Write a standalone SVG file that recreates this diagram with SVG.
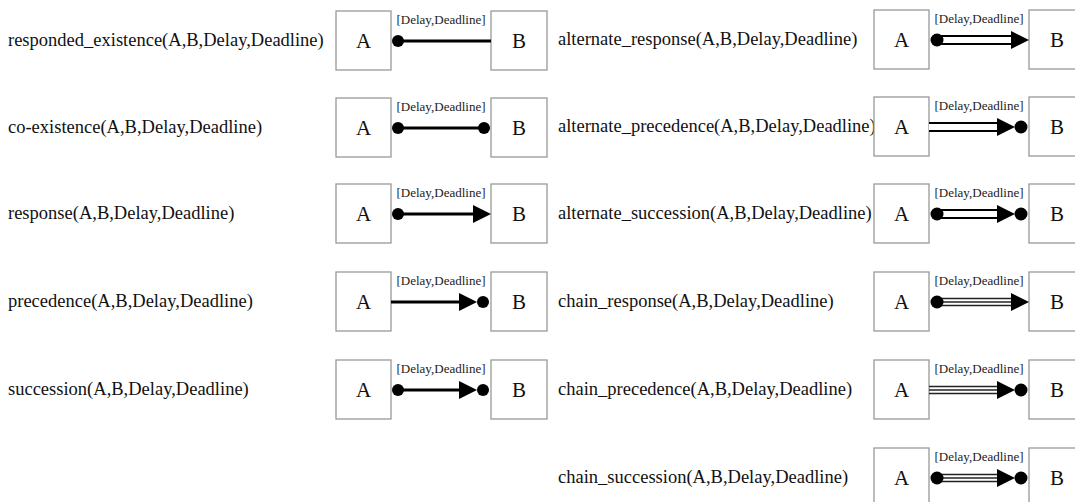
<svg xmlns="http://www.w3.org/2000/svg" width="1075" height="502" viewBox="0 0 1075 502">
<style>
.lbl{font-family:'Liberation Serif','Times New Roman',Times,serif;font-size:18.5px;fill:#111}
.box{fill:#fff;stroke:#999;stroke-width:1.3}
.bt{font-family:'Liberation Serif','Times New Roman',Times,serif;font-size:21px;fill:#111;text-anchor:middle}
.dl{font-family:'Liberation Serif','Times New Roman',Times,serif;font-size:13px;fill:#222;text-anchor:middle}
.ln{stroke:#000;stroke-width:3;fill:none}
.dbo{stroke:#000;stroke-width:10;fill:none}
.dbi{stroke:#fff;stroke-width:6;fill:none}
.tl{stroke:#222;stroke-width:1.4;fill:none}
.dot{fill:#000}
</style>
<rect width="1075" height="502" fill="#fff"/>
<g id="nodes">
<g id="r1l" transform="translate(0,41)">
<text class="lbl" x="8" y="5">responded_existence(A,B,Delay,Deadline)</text>
<rect class="box" x="336" y="-30" width="55" height="59"/><text class="bt" x="363.5" y="7">A</text>
<rect class="box" x="491" y="-30" width="56" height="59"/><text class="bt" x="519" y="7">B</text>
<text class="dl" x="441" y="-17">[Delay,Deadline]</text>
</g>
<g id="r2l" transform="translate(0,128)">
<text class="lbl" x="8" y="5">co-existence(A,B,Delay,Deadline)</text>
<rect class="box" x="336" y="-30" width="55" height="59"/><text class="bt" x="363.5" y="7">A</text>
<rect class="box" x="491" y="-30" width="56" height="59"/><text class="bt" x="519" y="7">B</text>
<text class="dl" x="441" y="-17">[Delay,Deadline]</text>
</g>
<g id="r3l" transform="translate(0,214)">
<text class="lbl" x="8" y="5">response(A,B,Delay,Deadline)</text>
<rect class="box" x="336" y="-30" width="55" height="59"/><text class="bt" x="363.5" y="7">A</text>
<rect class="box" x="491" y="-30" width="56" height="59"/><text class="bt" x="519" y="7">B</text>
<text class="dl" x="441" y="-17">[Delay,Deadline]</text>
</g>
<g id="r4l" transform="translate(0,302)">
<text class="lbl" x="8" y="5">precedence(A,B,Delay,Deadline)</text>
<rect class="box" x="336" y="-30" width="55" height="59"/><text class="bt" x="363.5" y="7">A</text>
<rect class="box" x="491" y="-30" width="56" height="59"/><text class="bt" x="519" y="7">B</text>
<text class="dl" x="441" y="-17">[Delay,Deadline]</text>
</g>
<g id="r5l" transform="translate(0,390)">
<text class="lbl" x="8" y="5">succession(A,B,Delay,Deadline)</text>
<rect class="box" x="336" y="-30" width="55" height="59"/><text class="bt" x="363.5" y="7">A</text>
<rect class="box" x="491" y="-30" width="56" height="59"/><text class="bt" x="519" y="7">B</text>
<text class="dl" x="441" y="-17">[Delay,Deadline]</text>
</g>
<g id="r1r" transform="translate(0,40)">
<text class="lbl" x="558" y="5">alternate_response(A,B,Delay,Deadline)</text>
<rect class="box" x="874" y="-30" width="55" height="59"/><text class="bt" x="901.5" y="7">A</text>
<rect class="box" x="1029" y="-30" width="56" height="59"/><text class="bt" x="1057" y="7">B</text>
<text class="dl" x="979" y="-17">[Delay,Deadline]</text>
</g>
<g id="r2r" transform="translate(0,127)">
<text class="lbl" x="558" y="5">alternate_precedence(A,B,Delay,Deadline)</text>
<rect class="box" x="874" y="-30" width="55" height="59"/><text class="bt" x="901.5" y="7">A</text>
<rect class="box" x="1029" y="-30" width="56" height="59"/><text class="bt" x="1057" y="7">B</text>
<text class="dl" x="979" y="-17">[Delay,Deadline]</text>
</g>
<g id="r3r" transform="translate(0,214)">
<text class="lbl" x="558" y="5">alternate_succession(A,B,Delay,Deadline)</text>
<rect class="box" x="874" y="-30" width="55" height="59"/><text class="bt" x="901.5" y="7">A</text>
<rect class="box" x="1029" y="-30" width="56" height="59"/><text class="bt" x="1057" y="7">B</text>
<text class="dl" x="979" y="-17">[Delay,Deadline]</text>
</g>
<g id="r4r" transform="translate(0,302)">
<text class="lbl" x="558" y="5">chain_response(A,B,Delay,Deadline)</text>
<rect class="box" x="874" y="-30" width="55" height="59"/><text class="bt" x="901.5" y="7">A</text>
<rect class="box" x="1029" y="-30" width="56" height="59"/><text class="bt" x="1057" y="7">B</text>
<text class="dl" x="979" y="-17">[Delay,Deadline]</text>
</g>
<g id="r5r" transform="translate(0,390)">
<text class="lbl" x="558" y="5">chain_precedence(A,B,Delay,Deadline)</text>
<rect class="box" x="874" y="-30" width="55" height="59"/><text class="bt" x="901.5" y="7">A</text>
<rect class="box" x="1029" y="-30" width="56" height="59"/><text class="bt" x="1057" y="7">B</text>
<text class="dl" x="979" y="-17">[Delay,Deadline]</text>
</g>
<g id="r6r" transform="translate(0,478)">
<text class="lbl" x="558" y="5">chain_succession(A,B,Delay,Deadline)</text>
<rect class="box" x="874" y="-30" width="55" height="59"/><text class="bt" x="901.5" y="7">A</text>
<rect class="box" x="1029" y="-30" width="56" height="59"/><text class="bt" x="1057" y="7">B</text>
<text class="dl" x="979" y="-17">[Delay,Deadline]</text>
</g>
</g>
<g id="connectors">
<g transform="translate(0,41)">
<line class="ln" x1="398" y1="0" x2="491" y2="0"/><circle class="dot" cx="398" cy="0" r="6"/>
</g>
<g transform="translate(0,128)">
<line class="ln" x1="398" y1="0" x2="484" y2="0"/><circle class="dot" cx="398" cy="0" r="6"/><circle class="dot" cx="484" cy="0" r="6"/>
</g>
<g transform="translate(0,214)">
<line class="ln" x1="398" y1="0" x2="476" y2="0"/><circle class="dot" cx="398" cy="0" r="6"/><path class="dot" d="M473,-9 L491,0 L473,9Z"/>
</g>
<g transform="translate(0,302)">
<line class="ln" x1="391" y1="0" x2="462" y2="0"/><path class="dot" d="M459,-9 L477,0 L459,9Z"/><circle class="dot" cx="483" cy="0" r="6"/>
</g>
<g transform="translate(0,390)">
<line class="ln" x1="398" y1="0" x2="462" y2="0"/><circle class="dot" cx="398" cy="0" r="6"/><path class="dot" d="M459,-9 L477,0 L459,9Z"/><circle class="dot" cx="483" cy="0" r="6"/>
</g>
<g transform="translate(0,40)">
<line class="dbo" x1="937" y1="0" x2="1016" y2="0"/><line class="dbi" x1="937" y1="0" x2="1016" y2="0"/><circle class="dot" cx="937" cy="0" r="6.5"/><path class="dot" d="M1011,-9 L1029,0 L1011,9Z"/>
</g>
<g transform="translate(0,127)">
<line class="dbo" x1="929" y1="0" x2="1002" y2="0"/><line class="dbi" x1="929" y1="0" x2="1002" y2="0"/><path class="dot" d="M997,-9 L1015,0 L997,9Z"/><circle class="dot" cx="1021" cy="0" r="6.5"/>
</g>
<g transform="translate(0,214)">
<line class="dbo" x1="937" y1="0" x2="1002" y2="0"/><line class="dbi" x1="937" y1="0" x2="1002" y2="0"/><circle class="dot" cx="937" cy="0" r="6.5"/><path class="dot" d="M997,-9 L1015,0 L997,9Z"/><circle class="dot" cx="1021" cy="0" r="6.5"/>
</g>
<g transform="translate(0,302)">
<line class="tl" x1="937" y1="-3.5" x2="1014" y2="-3.5"/><line class="tl" x1="937" y1="0" x2="1014" y2="0"/><line class="tl" x1="937" y1="3.5" x2="1014" y2="3.5"/><circle class="dot" cx="937" cy="0" r="6.5"/><path class="dot" d="M1011,-9 L1029,0 L1011,9Z"/>
</g>
<g transform="translate(0,390)">
<line class="tl" x1="929" y1="-3.5" x2="1000" y2="-3.5"/><line class="tl" x1="929" y1="0" x2="1000" y2="0"/><line class="tl" x1="929" y1="3.5" x2="1000" y2="3.5"/><path class="dot" d="M997,-9 L1015,0 L997,9Z"/><circle class="dot" cx="1021" cy="0" r="6.5"/>
</g>
<g transform="translate(0,478)">
<line class="tl" x1="937" y1="-3.5" x2="1000" y2="-3.5"/><line class="tl" x1="937" y1="0" x2="1000" y2="0"/><line class="tl" x1="937" y1="3.5" x2="1000" y2="3.5"/><circle class="dot" cx="937" cy="0" r="6.5"/><path class="dot" d="M997,-9 L1015,0 L997,9Z"/><circle class="dot" cx="1021" cy="0" r="6.5"/>
</g>
</g>
</svg>
